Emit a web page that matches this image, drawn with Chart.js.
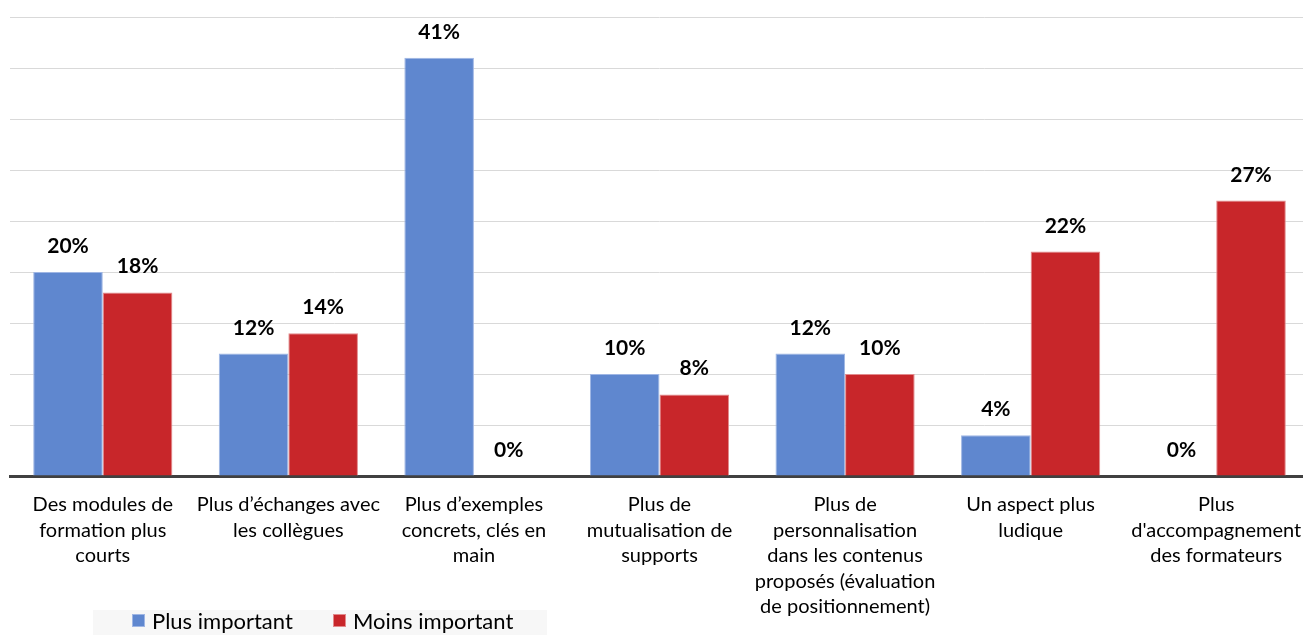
<!DOCTYPE html>
<html><head><meta charset="utf-8">
<script src="https://cdn.jsdelivr.net/npm/chart.js@4"></script>
<style>html,body{margin:0;padding:0;overflow:hidden;background:#fff}#wrap{width:1310px;height:635px}</style>
</head><body><div id="wrap"><canvas id="c" width="1310" height="635" style="width:1310px;height:635px"></canvas></div>
<script>
const categories = [
  ["Des modules de", "formation plus", "courts"],
  ["Plus d’échanges avec", "les collègues"],
  ["Plus d’exemples", "concrets, clés en", "main"],
  ["Plus de", "mutualisation de", "supports"],
  ["Plus de", "personnalisation", "dans les contenus", "proposés (évaluation", "de positionnement)"],
  ["Un aspect plus", "ludique"],
  ["Plus", "d'accompagnement", "des formateurs"]
];
const seriesNames = ["Plus important", "Moins important"];
const plusImportant = [20, 12, 41, 10, 12, 4, 0];
const moinsImportant = [18, 14, 0, 8, 10, 22, 27];
const yMax = 45;
const yStep = 5;

const BLUE = '#5f87cf', BLUE_B = '#9fb6e4';
const RED = '#c8262a', RED_B = '#e28a8c';

const dataLabels = {
  id: 'dataLabels',
  afterDatasetsDraw(chart) {
    const ctx = chart.ctx;
    ctx.save();
    ctx.font = 'bold 21px Lato';
    ctx.fillStyle = '#000';
    ctx.textAlign = 'center';
    ctx.textBaseline = 'alphabetic';
    chart.data.datasets.forEach((ds, i) => {
      chart.getDatasetMeta(i).data.forEach((el, j) => {
        ctx.fillText(ds.data[j] + '%', el.x, el.y - 19);
      });
    });
    ctx.restore();
  }
};

const customLegend = {
  id: 'customLegend',
  afterDraw(chart) {
    const ctx = chart.ctx;
    ctx.save();
    ctx.fillStyle = '#f7f7f7';
    ctx.fillRect(93, 610, 454, 25);
    ctx.font = '22px Lato';
    ctx.textBaseline = 'middle';
    ctx.textAlign = 'left';
    const xs = [132, 333];
    chart.data.datasets.forEach((ds, i) => {
      const x = xs[i];
      ctx.fillStyle = ds.backgroundColor;
      ctx.fillRect(x, 614, 13, 13);
      ctx.strokeStyle = ds.borderColor;
      ctx.lineWidth = 1;
      ctx.strokeRect(x + 0.5, 614.5, 12, 12);
      ctx.fillStyle = '#000';
      ctx.fillText(ds.label, x + 20, 622);
    });
    ctx.restore();
  }
};

new Chart(document.getElementById('c'), {
  type: 'bar',
  data: {
    labels: categories,
    datasets: [
      { label: seriesNames[0], data: plusImportant, backgroundColor: BLUE, borderColor: BLUE_B, borderWidth: 1 },
      { label: seriesNames[1], data: moinsImportant, backgroundColor: RED, borderColor: RED_B, borderWidth: 1 }
    ]
  },
  options: {
    responsive: false,
    animation: false,
    layout: { padding: { left: 10, right: 1, top: 17, bottom: 0 } },
    datasets: { bar: { categoryPercentage: 0.75, barPercentage: 1.0 } },
    plugins: { legend: { display: false }, tooltip: { enabled: false } },
    scales: {
      x: {
        grid: { display: false, drawTicks: false },
        border: { display: true, color: '#404040', width: 3 },
        ticks: { color: '#000', font: { family: 'Lato', size: 20, lineHeight: 1.275 }, padding: 16, maxRotation: 0, autoSkip: false },
        afterFit(scale) { scale.height = 159; scale.paddingLeft = 0; scale.paddingRight = 0; }
      },
      y: {
        min: 0, max: yMax,
        ticks: { display: false, stepSize: yStep },
        grid: { color: '#d9d9d9', lineWidth: 1, drawTicks: false },
        border: { display: false },
        afterFit(scale) { scale.width = 0; }
      }
    }
  },
  plugins: [dataLabels, customLegend]
});
</script>
</body></html>
